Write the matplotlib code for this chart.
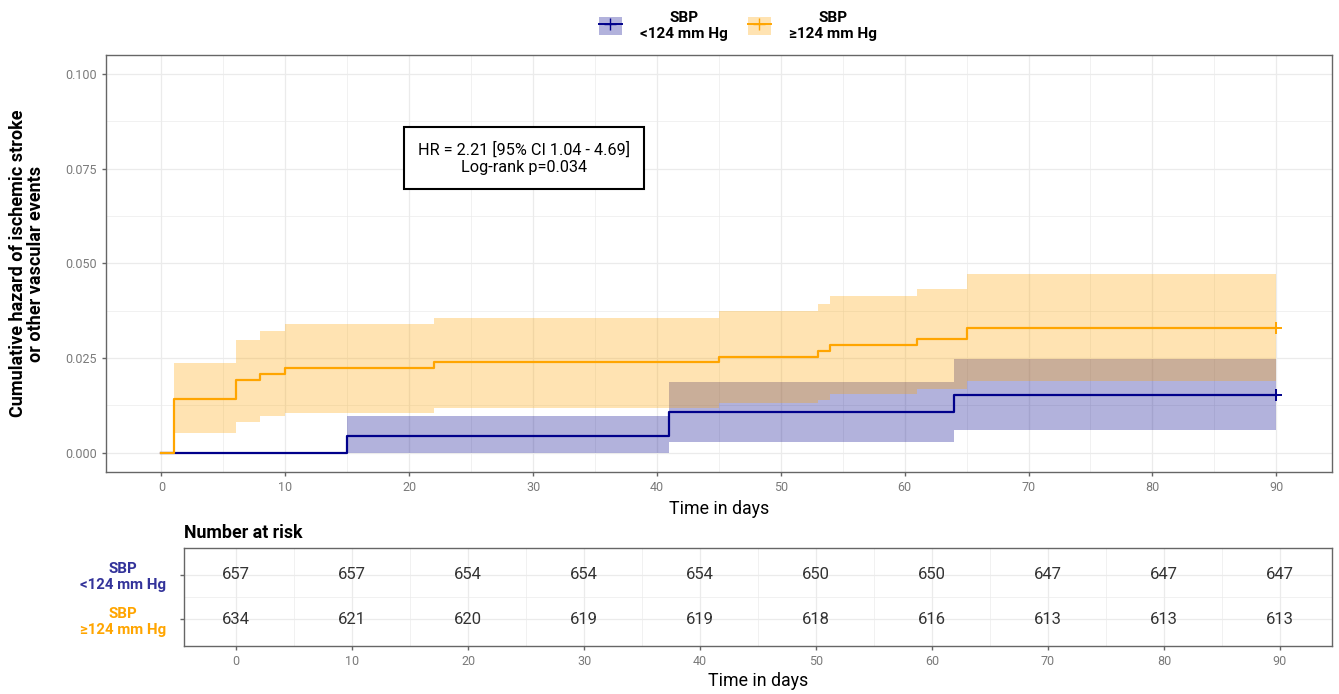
import matplotlib
matplotlib.use("Agg")
import matplotlib.pyplot as plt
from matplotlib.lines import Line2D
from matplotlib.patches import Patch

plt.rcParams["font.family"] = ["Roboto", "DejaVu Sans"]

# cumulative hazard, SBP <124 mm Hg
t_low = [0, 15, 41, 64, 90]
haz_low = [0.0, 0.0045, 0.0107, 0.0151, 0.0151]
up_low = [0.0, 0.0097, 0.0186, 0.0246, 0.0246]
lo_low = [0.0, 0.0, 0.0027, 0.0059, 0.0059]

# cumulative hazard, SBP >=124 mm Hg
t_high = [0, 1, 6, 8, 10, 22, 45, 53, 54, 61, 65, 90]
haz_high = [0.0, 0.0142, 0.0192, 0.0208, 0.0223, 0.0240, 0.0253, 0.0268,
            0.0283, 0.0300, 0.0329, 0.0329]
up_high = [0.0, 0.0237, 0.0297, 0.0320, 0.0339, 0.0356, 0.0374, 0.0392,
           0.0413, 0.0431, 0.0471, 0.0471]
lo_high = [0.0, 0.0052, 0.0081, 0.0096, 0.0105, 0.0119, 0.0130, 0.0139,
           0.0154, 0.0167, 0.0190, 0.0190]

risk_times = [0, 10, 20, 30, 40, 50, 60, 70, 80, 90]
risk_low = [657, 657, 654, 654, 654, 650, 650, 647, 647, 647]
risk_high = [634, 621, 620, 619, 619, 618, 616, 613, 613, 613]

groups = ["SBP\n<124 mm Hg", "SBP\n\u2265124 mm Hg"]
hr_text = "HR = 2.21 [95% CI 1.04 - 4.69]\nLog-rank p=0.034"

BLUE = "#00008B"
ORANGE = "#FFA500"
GRID = "#ebebeb"
SPINE = "#666666"
TICK_TXT = "#7a7a7a"

fig = plt.figure(figsize=(13.39, 6.94), dpi=100)
ax = fig.add_axes([0.0789, 0.3195, 0.9159, 0.6012])
tbl = fig.add_axes([0.1374, 0.0696, 0.8574, 0.1408])


def style_axes(a):
    for s in a.spines.values():
        s.set_color(SPINE)
        s.set_linewidth(1.0)
    a.tick_params(colors=SPINE, labelcolor=TICK_TXT, labelsize=9, length=3, width=1)
    a.set_axisbelow(True)
    a.grid(True, which="major", color=GRID, lw=0.9)
    a.grid(True, which="minor", color=GRID, lw=0.5)
    a.tick_params(which="minor", length=0)


# main panel
ax.fill_between(t_low, lo_low, up_low, step="post", color=BLUE, alpha=0.3, lw=0)
ax.fill_between(t_high, lo_high, up_high, step="post", color=ORANGE, alpha=0.3, lw=0)
ax.step(t_low, haz_low, where="post", color=BLUE, lw=1.6)
ax.step(t_high, haz_high, where="post", color=ORANGE, lw=1.6)
ax.plot(t_low[-1], haz_low[-1], marker="+", color=BLUE, ms=8, mew=1.4)
ax.plot(t_high[-1], haz_high[-1], marker="+", color=ORANGE, ms=8, mew=1.4)

ax.set_xlim(-4.5, 94.5)
ax.set_ylim(-0.0052, 0.105)
ax.set_xticks(range(0, 91, 10))
ax.set_xticks(range(5, 91, 10), minor=True)
ax.set_yticks([0, 0.025, 0.05, 0.075, 0.1])
ax.set_yticks([0.0125, 0.0375, 0.0625, 0.0875], minor=True)
ax.set_yticklabels(["0.000", "0.025", "0.050", "0.075", "0.100"])
style_axes(ax)
ax.set_xlabel("Time in days", fontsize=12.8, labelpad=4)
ax.set_ylabel("Cumulative hazard of ischemic stroke\nor other vascular events",
              fontsize=13, fontweight="bold", labelpad=14, linespacing=1.05)

ax.text(29.3, 0.0778, hr_text, ha="center", va="center", fontsize=11.7,
        linespacing=1.2,
        bbox=dict(boxstyle="square,pad=0.85", fc="white", ec="black", lw=1.5))

# legend
handles = [
    (Patch(facecolor=BLUE, alpha=0.3, lw=0), Line2D([], [], color=BLUE, marker="+", ms=8, lw=1.4)),
    (Patch(facecolor=ORANGE, alpha=0.3, lw=0), Line2D([], [], color=ORANGE, marker="+", ms=8, lw=1.4)),
]
leg = fig.legend(handles, groups, loc="center", bbox_to_anchor=(0.551, 0.963), ncol=2,
                 frameon=False, prop={"weight": "bold", "size": 11},
                 handlelength=1.5, handleheight=1.5, handletextpad=1.2,
                 columnspacing=1.3)
for t in leg.get_texts():
    t.set_multialignment("center")

# risk table
for x, n1, n2 in zip(risk_times, risk_low, risk_high):
    tbl.text(x, 2, str(n1), ha="center", va="center", fontsize=12, color="#333333")
    tbl.text(x, 1, str(n2), ha="center", va="center", fontsize=12, color="#333333")

tbl.set_xlim(-4.5, 94.5)
tbl.set_ylim(0.4, 2.6)
tbl.set_xticks(risk_times)
tbl.set_xticks(range(5, 91, 10), minor=True)
tbl.set_yticks([2, 1])
tbl.set_yticks([1.5], minor=True)
tbl.set_yticklabels(groups)
style_axes(tbl)
tbl.tick_params(axis="y", pad=10)
for lab, col in zip(tbl.get_yticklabels(), ["#33339a", ORANGE]):
    lab.set_color(col)
    lab.set_fontweight("bold")
    lab.set_fontsize(10.8)
    lab.set_multialignment("center")
tbl.set_xlabel("Time in days", fontsize=12.8, labelpad=3)
tbl.set_title("Number at risk", loc="left", fontweight="bold", fontsize=12.8, pad=7)
tbl.title.set_x(-0.002)

fig.savefig("out.png", dpi=100)
